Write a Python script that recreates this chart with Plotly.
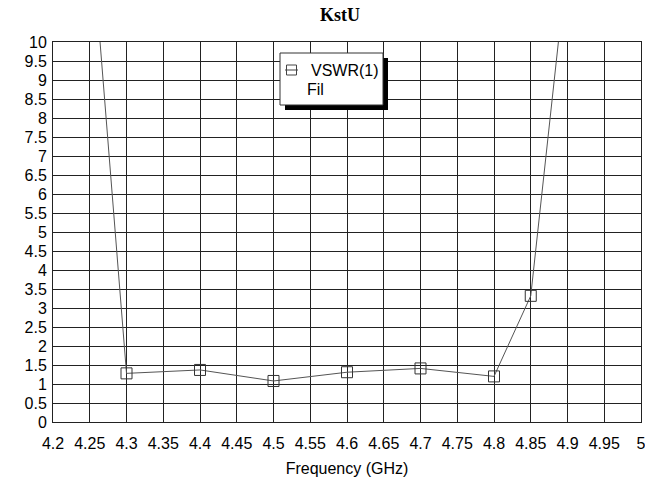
# VSWR 그래프 (KstU) - Frequency vs VSWR
import plotly.graph_objects as go

freq = [4.2, 4.3, 4.4, 4.5, 4.6, 4.7, 4.8, 4.85, 4.9]
vswr = [25.5, 1.28, 1.37, 1.08, 1.31, 1.41, 1.20, 3.32, 12.2]

x_ticks = [4.2, 4.25, 4.3, 4.35, 4.4, 4.45, 4.5, 4.55, 4.6, 4.65, 4.7, 4.75, 4.8, 4.85, 4.9, 4.95, 5.0]
x_labels = ['4.2', '4.25', '4.3', '4.35', '4.4', '4.45', '4.5', '4.55', '4.6', '4.65', '4.7', '4.75',
            '4.8', '4.85', '4.9', '4.95', '5']
y_ticks = [i * 0.5 for i in range(21)]
y_labels = ['0', '0.5', '1', '1.5', '2', '2.5', '3', '3.5', '4', '4.5', '5', '5.5', '6', '6.5', '7',
            '7.5', '8', '8.5', '9', '9.5', '10']

W, H = 645, 485
L, R, T, B = 53, 4, 42, 63


def px(x):  # 픽셀 -> paper 좌표
    return (x - L) / (W - L - R)


def py(y):
    return (H - B - y) / (H - T - B)


fig = go.Figure()
fig.add_trace(go.Scatter(x=freq, y=vswr, mode='lines+markers', name='VSWR(1)', showlegend=False,
                         line={'color': '#555', 'width': 1},
                         marker={'symbol': 'square-open', 'size': 11, 'color': '#333',
                                 'line': {'width': 1, 'color': '#333'}}))

axis_font = {'family': 'Liberation Sans, Arial', 'size': 16, 'color': 'black'}
fig.update_layout(
    width=W, height=H, margin={'l': L, 'r': R, 't': T, 'b': B},
    paper_bgcolor='white', plot_bgcolor='white',
    title={'text': '<b>KstU</b>', 'x': px(340), 'xref': 'paper', 'y': 1 - 15 / H, 'yref': 'container',
           'xanchor': 'center', 'yanchor': 'middle',
           'font': {'family': 'Liberation Serif, Times New Roman', 'size': 18, 'color': 'black'}},
    xaxis={'range': [4.2, 5.0], 'tickvals': x_ticks, 'ticktext': x_labels, 'tickfont': axis_font,
           'showgrid': True, 'gridcolor': '#222', 'gridwidth': 1, 'zeroline': False,
           'showline': True, 'linecolor': '#222', 'linewidth': 1, 'mirror': True,
           'ticks': 'outside', 'ticklen': 7, 'tickcolor': 'white', 'ticklabeloverflow': 'allow',
           'automargin': False,
           'title': {'text': 'Frequency (GHz)', 'font': axis_font, 'standoff': 11}},
    yaxis={'range': [0, 10], 'tickvals': y_ticks, 'ticktext': y_labels, 'tickfont': axis_font,
           'showgrid': True, 'gridcolor': '#222', 'gridwidth': 1, 'zeroline': False,
           'showline': True, 'linecolor': '#222', 'linewidth': 1, 'mirror': True,
           'ticks': 'outside', 'ticklen': 2, 'tickcolor': 'white'},
    showlegend=False,
)

# 범례 박스 (그림자 + 흰 박스)
fig.add_shape(type='rect', xref='paper', yref='paper', x0=px(285), x1=px(388), y0=py(110), y1=py(58),
              fillcolor='black', line={'width': 0})
fig.add_shape(type='rect', xref='paper', yref='paper', x0=px(280), x1=px(383), y0=py(105), y1=py(53),
              fillcolor='white', line={'color': '#333', 'width': 1})
fig.add_shape(type='line', xref='paper', yref='paper', x0=px(285), x1=px(298), y0=py(70), y1=py(70),
              line={'color': '#444', 'width': 1})
fig.add_shape(type='rect', xref='paper', yref='paper', x0=px(286.5), x1=px(296.5), y0=py(75), y1=py(65),
              line={'color': '#444', 'width': 1})
fig.add_annotation(text='VSWR(1)', xref='paper', yref='paper', x=px(309), y=py(70), showarrow=False,
                   xanchor='left', yanchor='middle', font=axis_font)
fig.add_annotation(text='Fil', xref='paper', yref='paper', x=px(305), y=py(90), showarrow=False,
                   xanchor='left', yanchor='middle', font=axis_font)

# 브라우저 기본 body 여백 제거
fig.write_html('out.html', config={'displayModeBar': False},
               post_script="document.body.style.margin='0';")
